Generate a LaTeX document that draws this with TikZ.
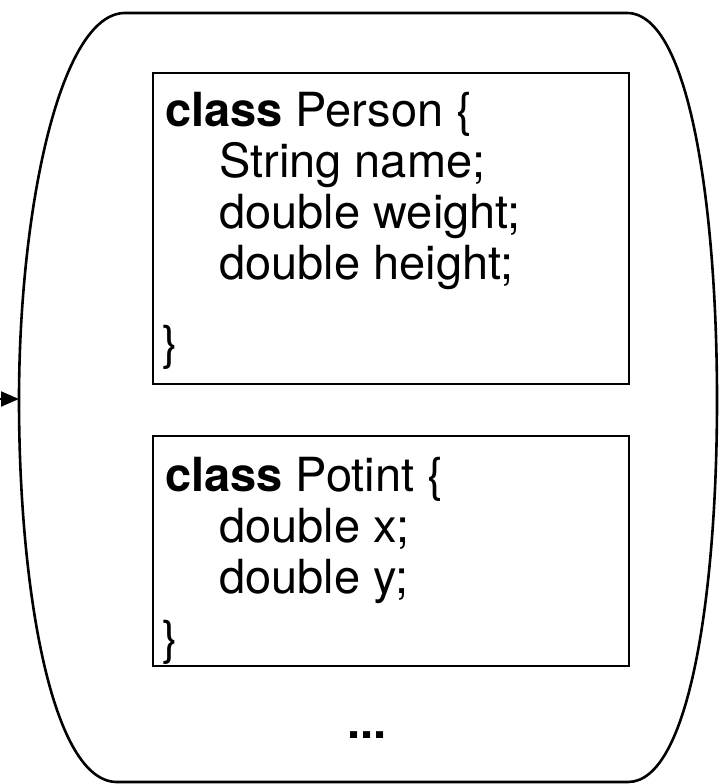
\documentclass[tikz,border=0pt]{standalone}
\usepackage{fontspec}
\setmainfont{TeX Gyre Heros}
\usetikzlibrary{arrows.meta}
\begin{document}
\begin{tikzpicture}[x=1pt,y=-1pt,
  outer/.style={line width=2.6pt},
  classbox/.style={draw,line width=2pt,anchor=north west,inner sep=0pt},
  code/.style={anchor=base west,inner sep=0pt,font=\fontsize{47}{50}\selectfont},
  entryarrow/.style={line width=2pt,-{Triangle[length=18pt,width=15pt]}}
]
\useasboundingbox (0,0) rectangle (722,784);
% outer container
\draw[outer] (125,13) -- (627,13)
  .. controls (690,13) and (717,210) .. (717,400)
  .. controls (717,590) and (690,782) .. (628,782)
  -- (117,782)
  .. controls (52,782) and (19,590) .. (19,400)
  .. controls (19,210) and (60,13) .. (125,13) -- cycle;
\coordinate (entry) at (19,399);
\coordinate (src) at (-40,399);
\draw[entryarrow] (src) -- (entry);
% class boxes
\node[classbox,minimum width=476pt,minimum height=311pt] (person) at (152,72) {};
\node[classbox,minimum width=476pt,minimum height=230pt] (point) at (152,435) {};
% Person text
\node[code] (p1) at (165,126) {\textbf{class} Person \{};
\node[code] (p2) at (219,177) {String name;};
\node[code] (p3) at (219,228) {double weight;};
\node[code] (p4) at (219,279) {double height;};
\node[code] (p5) at (162,359) {\}};
% Point text
\node[code] (q1) at (165,491) {\textbf{class} Potint \{};
\node[code] (q2) at (219,542) {double x;};
\node[code] (q3) at (219,593) {double y;};
\node[code] (q4) at (162,654) {\}};
% ellipsis
\node[code,anchor=base] (dots) at (367,738) {\textbf{...}};
\end{tikzpicture}
\end{document}
